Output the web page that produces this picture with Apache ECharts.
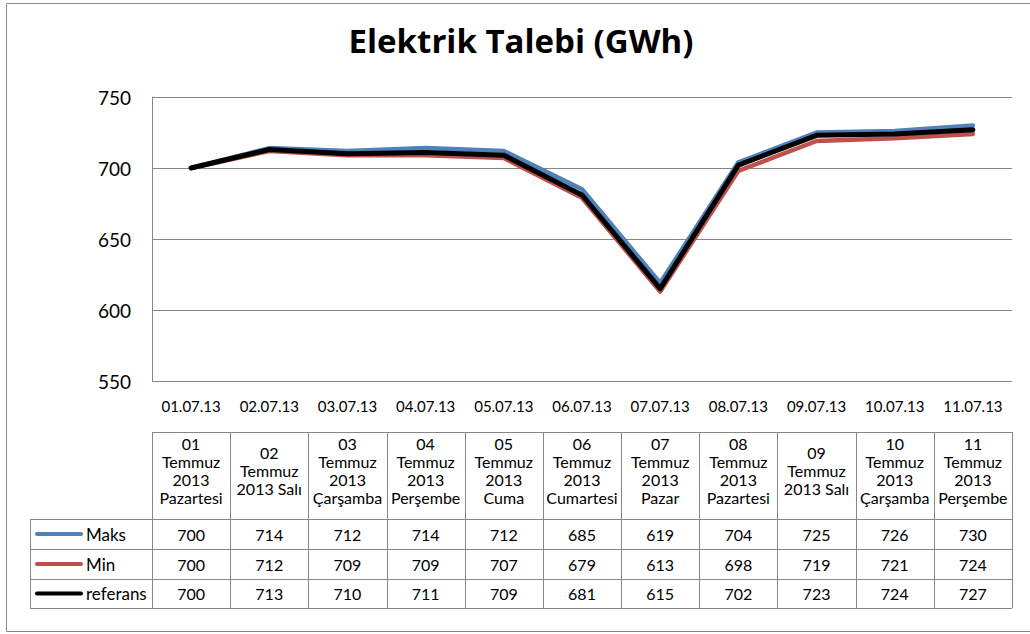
<!DOCTYPE html>
<html>
<head>
<meta charset="utf-8">
<script src="https://cdn.jsdelivr.net/npm/echarts@6/dist/echarts.min.js"></script>
<style>
html,body{margin:0;padding:0;background:#fff;}
#chart{width:1030px;height:634px;}
</style>
</head>
<body>
<div id="chart"></div>
<script>
const categories = ['01.07.13','02.07.13','03.07.13','04.07.13','05.07.13','06.07.13','07.07.13','08.07.13','09.07.13','10.07.13','11.07.13'];
const headerLabels = ['01\nTemmuz\n2013\nPazartesi','02\nTemmuz\n2013 Salı','03\nTemmuz\n2013\nÇarşamba','04\nTemmuz\n2013\nPerşembe','05\nTemmuz\n2013\nCuma','06\nTemmuz\n2013\nCumartesi','07\nTemmuz\n2013\nPazar','08\nTemmuz\n2013\nPazartesi','09\nTemmuz\n2013 Salı','10\nTemmuz\n2013\nÇarşamba','11\nTemmuz\n2013\nPerşembe'];
const seriesNames = ['Maks','Min','referans'];
const maksValues = [700,714,712,714,712,685,619,704,725,726,730];
const minValues = [700,712,709,709,707,679,613,698,719,721,724];
const refValues = [700,713,710,711,709,681,615,702,723,724,727];
const yTicks = {min:550, max:750, interval:50};

const FONT = 'Lato, "Liberation Sans", sans-serif';
const GREY = '#868686';
const colors = ['#4F81BD','#C0504D','#000000'];
const widths = [4.5,4.5,5];
const allValues = [maksValues, minValues, refValues];

const chart = echarts.init(document.getElementById('chart'), null, {renderer:'svg'});
chart.setOption({
  animation:false,
  backgroundColor:'#fff',
  title:{
    text:'Elektrik Talebi (GWh)',
    left:516, top:19, textAlign:'center',
    textStyle:{fontFamily:'"Open Sans", Lato, sans-serif', fontWeight:'bold', fontSize:33, color:'#000'}
  },
  grid:{left:152, right:18, top:97, bottom:253, containLabel:false},
  xAxis:{
    type:'category', data:categories, boundaryGap:true,
    axisLine:{show:false}, axisTick:{show:false},
    axisLabel:{fontFamily:FONT, fontSize:15, color:'#000', margin:17}
  },
  yAxis:{
    type:'value', min:yTicks.min, max:yTicks.max, interval:yTicks.interval,
    axisLine:{show:true, lineStyle:{color:GREY, width:1}},
    axisTick:{show:false},
    splitLine:{show:true, lineStyle:{color:GREY, width:1}},
    axisLabel:{fontFamily:FONT, fontSize:19, color:'#000', margin:21}
  },
  series: seriesNames.map((n,i)=>({
    name:n, type:'line', data:allValues[i], showSymbol:false, symbol:'none',
    lineStyle:{color:colors[i], width:widths[i], cap:'round', join:'round'},
    z: 2+i
  }))
});

// Build data table beneath the chart, aligned to the category axis
const c0 = chart.convertToPixel({xAxisIndex:0}, 0);
const c1 = chart.convertToPixel({xAxisIndex:0}, 1);
const band = c1 - c0;
const n = categories.length;
const tableLeft = c0 - band/2;
const tableRight = chart.convertToPixel({xAxisIndex:0}, n-1) + band/2;
const legendLeft = 30;
const rowTops = [432, 519, 549, 579, 608];
const els = [];
function hline(x1,x2,y){els.push({type:'line', shape:{x1:x1,y1:Math.round(y)+0.5,x2:x2,y2:Math.round(y)+0.5}, style:{stroke:GREY, lineWidth:1}});}
function vline(x,y1,y2){els.push({type:'line', shape:{x1:Math.round(x)+0.5,y1:y1,x2:Math.round(x)+0.5,y2:y2}, style:{stroke:GREY, lineWidth:1}});}
hline(tableLeft, tableRight, rowTops[0]);
for (let r=1;r<rowTops.length;r++) hline(legendLeft, tableRight, rowTops[r]);
vline(legendLeft, rowTops[1], rowTops[4]);
for (let i=0;i<=n;i++) vline(tableLeft + i*band, rowTops[0], rowTops[4]);
// outer chart border
els.push({type:'rect', shape:{x:6.5,y:3.5,width:1030,height:628}, style:{fill:'none', stroke:GREY, lineWidth:1}, z:-1});
for (let i=0;i<n;i++){
  const cx = chart.convertToPixel({xAxisIndex:0}, i);
  els.push({type:'text', style:{text:headerLabels[i], x:cx, y:470, align:'center', verticalAlign:'middle', font:'16px '+FONT, lineHeight:18, fill:'#000'}});
  for (let s=0;s<3;s++){
    const cy = (rowTops[s+1]+rowTops[s+2])/2;
    els.push({type:'text', style:{text:String(allValues[s][i]), x:cx, y:cy, align:'center', verticalAlign:'middle', font:'16px '+FONT, fill:'#000'}});
  }
}
for (let s=0;s<3;s++){
  const cy = (rowTops[s+1]+rowTops[s+2])/2;
  els.push({type:'line', shape:{x1:37,y1:cy,x2:81,y2:cy}, style:{stroke:colors[s], lineWidth:4, lineCap:'round'}});
  els.push({type:'text', style:{text:seriesNames[s], x:86, y:cy, align:'left', verticalAlign:'middle', font:'17px '+FONT, fill:'#000'}});
}
chart.setOption({graphic:{elements:els}});
</script>
</body>
</html>
